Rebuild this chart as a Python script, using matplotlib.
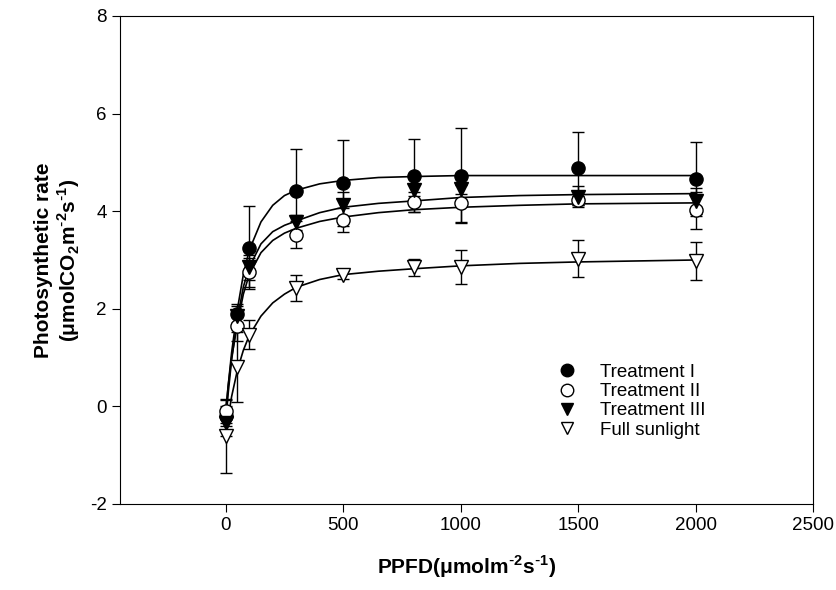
import matplotlib
matplotlib.use("Agg")
import matplotlib.pyplot as plt
from matplotlib.lines import Line2D

plt.rcParams['font.family'] = ['Liberation Sans', 'DejaVu Sans']
plt.rcParams['axes.unicode_minus'] = False

# measured points
ppfd = [0, 50, 100, 300, 500, 800, 1000, 1500, 2000]

t1 = [-0.2, 1.9, 3.25, 4.42, 4.58, 4.73, 4.73, 4.88, 4.66]
t1_err = [0.2, 0.2, 0.85, 0.85, 0.88, 0.75, 0.97, 0.75, 0.76]

t2 = [-0.1, 1.65, 2.75, 3.52, 3.82, 4.19, 4.16, 4.22, 4.02]
t2_err = [0.25, 0.3, 0.3, 0.27, 0.25, 0.2, 0.38, 0.1, 0.38]

t3 = [-0.35, 1.85, 2.85, 3.77, 4.12, 4.43, 4.46, 4.3, 4.21]
t3_err = [0.25, 0.2, 0.25, 0.15, 0.28, 0.12, 0.1, 0.22, 0.26]

full = [-0.61, 0.8, 1.47, 2.43, 2.7, 2.85, 2.86, 3.03, 2.98]
full_err = [0.75, 0.72, 0.3, 0.27, 0.08, 0.17, 0.35, 0.38, 0.39]

# fitted curves
curve_x = [0, 10, 25, 50, 75, 100, 150, 200, 250, 300, 400, 500, 650, 800, 1000, 1250, 1500, 2000]
t1_fit = [-0.2, 0.4, 1.1, 2.0, 2.7, 3.2, 3.78, 4.12, 4.32, 4.43, 4.56, 4.63, 4.69, 4.71, 4.73, 4.73, 4.73, 4.73]
t2_fit = [-0.1, 0.4, 1.0, 1.7, 2.3, 2.7, 3.15, 3.4, 3.55, 3.65, 3.79, 3.88, 3.97, 4.03, 4.08, 4.12, 4.15, 4.17]
t3_fit = [-0.35, 0.25, 0.95, 1.8, 2.45, 2.85, 3.33, 3.58, 3.71, 3.8, 3.97, 4.08, 4.16, 4.21, 4.28, 4.32, 4.34, 4.36]
full_fit = [-0.6, -0.25, 0.2, 0.75, 1.15, 1.45, 1.85, 2.12, 2.3, 2.44, 2.6, 2.7, 2.77, 2.82, 2.88, 2.93, 2.96, 3.0]

labels = ["Treatment I", "Treatment II", "Treatment III", "Full sunlight"]

fig = plt.figure(figsize=(8.37, 5.9), dpi=100)
ax = fig.add_axes([0.1434, 0.1458, 0.8279, 0.8271])

for fit in [t1_fit, t2_fit, t3_fit, full_fit]:
    ax.plot(curve_x, fit, color='black', lw=1.2, zorder=2)

styles = [
    (t1, t1_err, 'o', 'black'),
    (t2, t2_err, 'o', 'white'),
    (t3, t3_err, 'v', 'black'),
    (full, full_err, 'v', 'white'),
]
for y, err, m, fc in styles:
    ax.errorbar(ppfd, y, yerr=err, fmt=m, mfc=fc, mec='black', ms=9.5,
                ecolor='black', elinewidth=1, capsize=4, capthick=1, zorder=3)

ax.set_xlim(-450, 2500)
ax.set_ylim(-2, 8)
ax.set_xticks([0, 500, 1000, 1500, 2000, 2500])
ax.set_yticks([-2, 0, 2, 4, 6, 8])
ax.tick_params(direction='out', length=6, labelsize=13.5, right=False, top=False)

m2 = r"$^{\mathregular{\text{-}2}}$"
m1 = r"$^{\mathregular{\text{-}1}}$"
ax.set_xlabel(r"PPFD($\mathregular{\mu}$molm" + m2 + "s" + m1 + ")",
              fontsize=15, fontweight='bold', labelpad=14)
ax.set_ylabel("Photosynthetic rate\n" + r"($\mathregular{\mu}$molCO$_{\mathregular{2}}$m" + m2 + "s" + m1 + ")",
              fontsize=15, fontweight='bold', labelpad=6, linespacing=1.1)

handles = [Line2D([], [], ls='none', marker=m, mfc=fc, mec='black', ms=9)
           for _, _, m, fc in styles]
ax.legend(handles, labels, loc='upper left', bbox_to_anchor=(0.62, 0.303),
          frameon=False, fontsize=13.5, handlelength=1, handletextpad=1.3,
          labelspacing=0.12, borderaxespad=0)

fig.savefig("out.png", dpi=100)
